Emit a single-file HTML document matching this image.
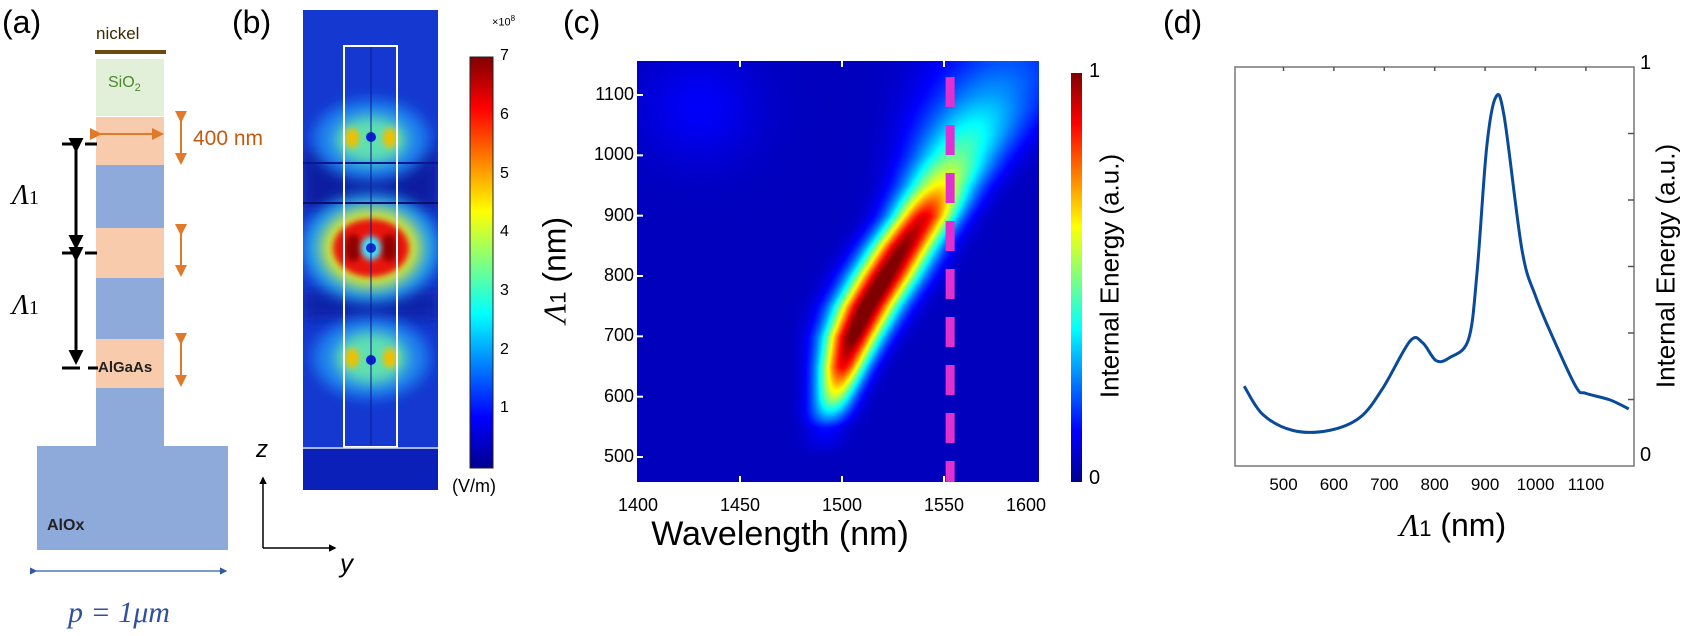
<!DOCTYPE html>
<html><head><meta charset="utf-8"><style>
html,body{margin:0;padding:0;background:#fff}
#root{position:relative;width:1688px;height:636px;overflow:hidden;font-family:"Liberation Sans",sans-serif}
.t{position:absolute;white-space:nowrap}
</style></head><body>
<div id="root">
<svg width="1688" height="636" style="position:absolute;left:0;top:0">
<defs>
<marker id="ao" markerWidth="6" markerHeight="6" refX="5" refY="3" orient="auto"><path d="M0,0L6,3L0,6z" fill="#e0792a"/></marker>
<marker id="ab" markerWidth="5" markerHeight="5" refX="4" refY="2.5" orient="auto"><path d="M0,0L5,2.5L0,5z" fill="#000"/></marker>
<marker id="abl" markerWidth="6" markerHeight="6" refX="5" refY="3" orient="auto"><path d="M0,0L6,3L0,6z" fill="#2f5aa8"/></marker>
<filter id="bl" x="-50%" y="-50%" width="200%" height="200%"><feGaussianBlur stdDeviation="7"/></filter>
<filter id="bl2" x="-50%" y="-50%" width="200%" height="200%"><feGaussianBlur stdDeviation="3"/></filter>
<linearGradient id="jet" x1="0" y1="1" x2="0" y2="0">
<stop offset="0" stop-color="#00008f"/><stop offset="0.125" stop-color="#0000ff"/><stop offset="0.375" stop-color="#00ffff"/><stop offset="0.625" stop-color="#ffff00"/><stop offset="0.875" stop-color="#ff0000"/><stop offset="1" stop-color="#800000"/></linearGradient>
</defs>
<g>
<rect x="95" y="50" width="71" height="4" fill="#6b4a10"/>
<rect x="96" y="59" width="68" height="57" fill="#e2efd9"/>
<rect x="96" y="117" width="68" height="48" fill="#f8cbad"/>
<rect x="96" y="165" width="68" height="63" fill="#8eaadb"/>
<rect x="96" y="228" width="68" height="50" fill="#f8cbad"/>
<rect x="96" y="278" width="68" height="61" fill="#8eaadb"/>
<rect x="96" y="339" width="68" height="49" fill="#f8cbad"/>
<rect x="96" y="388" width="68" height="60" fill="#8eaadb"/>
<rect x="37" y="446" width="191" height="104" fill="#8eaadb"/>
<line x1="100" y1="134" x2="162" y2="134" stroke="#e0792a" stroke-width="2" marker-start="url(#ao)" marker-end="url(#ao)"/>
<line x1="181" y1="121" x2="181" y2="163" stroke="#e0792a" stroke-width="2" marker-start="url(#ao)" marker-end="url(#ao)"/>
<line x1="181" y1="234" x2="181" y2="275" stroke="#e0792a" stroke-width="2" marker-start="url(#ao)" marker-end="url(#ao)"/>
<line x1="181" y1="343" x2="181" y2="385" stroke="#e0792a" stroke-width="2" marker-start="url(#ao)" marker-end="url(#ao)"/>
<g stroke="#000" stroke-width="3">
<line x1="62" y1="144" x2="80" y2="144"/><line x1="85" y1="144" x2="97" y2="144"/>
<line x1="62" y1="253" x2="80" y2="253"/><line x1="85" y1="253" x2="97" y2="253"/>
<line x1="62" y1="368" x2="80" y2="368"/><line x1="88" y1="368" x2="98" y2="368"/>
<line x1="76" y1="150" x2="76" y2="247" marker-start="url(#ab)" marker-end="url(#ab)"/>
<line x1="76" y1="259" x2="76" y2="362" marker-start="url(#ab)" marker-end="url(#ab)"/>
</g>
<line x1="36" y1="571" x2="226" y2="571" stroke="#2f5aa8" stroke-width="1.2" marker-start="url(#abl)" marker-end="url(#abl)"/>
</g>
<g>
<clipPath id="cb"><rect x="303" y="10" width="135" height="480"/></clipPath>
<g clip-path="url(#cb)">
<rect x="303" y="10" width="135" height="480" fill="#1438d0"/>
<rect x="303" y="150" width="135" height="60" fill="#0a1ca0" filter="url(#bl)"/>
<rect x="303" y="290" width="135" height="30" fill="#0a20a8" filter="url(#bl)"/>
<ellipse cx="371" cy="140" rx="58" ry="40" fill="#1a80f0" filter="url(#bl)"/>
<ellipse cx="371" cy="140" rx="36" ry="24" fill="#60e0b0" filter="url(#bl)"/>
<ellipse cx="352" cy="138" rx="7" ry="10" fill="#f0c000" filter="url(#bl2)"/>
<ellipse cx="390" cy="138" rx="7" ry="10" fill="#f0c000" filter="url(#bl2)"/>
<ellipse cx="371" cy="248" rx="68" ry="54" fill="#20a0f0" filter="url(#bl)"/>
<ellipse cx="371" cy="248" rx="50" ry="40" fill="#d8e830" filter="url(#bl)"/>
<ellipse cx="371" cy="248" rx="38" ry="29" fill="#e81808" filter="url(#bl2)"/>
<ellipse cx="353" cy="248" rx="8" ry="14" fill="#900000" filter="url(#bl2)"/>
<ellipse cx="389" cy="248" rx="8" ry="14" fill="#900000" filter="url(#bl2)"/>
<ellipse cx="371" cy="248" rx="10" ry="12" fill="#40e0ff" filter="url(#bl2)"/>
<circle cx="371" cy="248" r="5" fill="#1030d0"/>
<ellipse cx="371" cy="358" rx="58" ry="40" fill="#1a80f0" filter="url(#bl)"/>
<ellipse cx="371" cy="358" rx="36" ry="26" fill="#60e0b0" filter="url(#bl)"/>
<ellipse cx="352" cy="358" rx="7" ry="10" fill="#f0c000" filter="url(#bl2)"/>
<ellipse cx="390" cy="358" rx="7" ry="10" fill="#f0c000" filter="url(#bl2)"/>
<circle cx="371" cy="137" r="5" fill="#0820d0"/><circle cx="371" cy="360" r="5" fill="#0820d0"/>
<line x1="303" y1="163" x2="438" y2="163" stroke="#0a1890" stroke-width="2"/>
<line x1="303" y1="203" x2="438" y2="203" stroke="#061070" stroke-width="2"/>
<line x1="371" y1="46" x2="371" y2="447" stroke="#0a1a90" stroke-width="1"/>
<rect x="344" y="46" width="53" height="401" fill="none" stroke="#fff" stroke-width="2"/>
<rect x="303" y="449" width="135" height="41" fill="#0a20b8"/>
<line x1="303" y1="448" x2="438" y2="448" stroke="#ddd" stroke-width="1.5"/>
</g>
<rect x="470" y="57" width="23" height="411" fill="url(#jet)" stroke="#222" stroke-width="1"/>
<line x1="263" y1="548" x2="263" y2="478" stroke="#000" stroke-width="1.5" marker-end="url(#ab)"/>
<line x1="263" y1="548" x2="335" y2="548" stroke="#000" stroke-width="1.5" marker-end="url(#ab)"/>
</g>
<g>
<rect x="1071" y="73" width="11" height="409" fill="url(#jet)"/>
</g>
</svg>
<canvas id="heat" width="402" height="421" style="position:absolute;left:637px;top:61px"></canvas>
<svg id="overlay" width="1688" height="636" style="position:absolute;left:0;top:0"></svg>

<div class="t" style="left:2px;top:4px;font-size:32px">(a)</div>
<div class="t" style="left:96px;top:24px;font-size:17px;color:#3a2a00">nickel</div>
<div class="t" style="left:108px;top:74px;font-size:16px;color:#4a8a2a">SiO<sub style="font-size:11px">2</sub></div>
<div class="t" style="left:193px;top:127px;font-size:21px;color:#c55a11">400 nm</div>
<div class="t" style="left:12px;top:180px;font-size:28px;font-style:italic;font-family:'Liberation Serif',serif">Λ<span style="font-size:20px;font-style:normal">1</span></div>
<div class="t" style="left:12px;top:290px;font-size:28px;font-style:italic;font-family:'Liberation Serif',serif">Λ<span style="font-size:20px;font-style:normal">1</span></div>
<div class="t" style="left:98px;top:359px;font-size:15px;font-weight:bold;color:#222">AlGaAs</div>
<div class="t" style="left:47px;top:517px;font-size:16px;font-weight:bold;color:#222">AlOx</div>
<div class="t" style="left:68px;top:596px;font-size:30px;font-style:italic;color:#2f4f9f;font-family:'Liberation Serif',serif">p = 1μm</div>
<div class="t" style="left:232px;top:4px;font-size:32px">(b)</div>
<div class="t" style="left:256px;top:436px;font-size:24px;font-style:italic">z</div>
<div class="t" style="left:340px;top:548px;font-size:26px;font-style:italic">y</div>
<div class="t" style="left:492px;top:14px;font-size:11px">×10<sup style="font-size:8px">8</sup></div>
<div class="t" style="left:452px;top:476px;font-size:18px">(V/m)</div>
<div class="t" style="left:563px;top:4px;font-size:32px">(c)</div>
<div class="t" style="left:555px;top:270px;font-size:32px;transform:translate(0,-50%) rotate(-90deg);transform-origin:center;width:0;display:flex;justify-content:center"><span><i style="font-family:'Liberation Serif',serif">Λ</i><span style="font-size:22px">1</span> (nm)</span></div>
<div class="t" style="left:780px;top:515px;font-size:34px;transform:translateX(-50%)">Wavelength (nm)</div>
<div class="t" style="left:1089px;top:60px;font-size:20px">1</div>
<div class="t" style="left:1089px;top:467px;font-size:20px">0</div>
<div class="t" style="left:1110px;top:276px;font-size:26px;transform:translate(-50%,-50%) rotate(-90deg)">Internal Energy (a.u.)</div>
<div class="t" style="left:1163px;top:4px;font-size:32px">(d)</div>
<div class="t" style="left:1640px;top:52px;font-size:20px">1</div>
<div class="t" style="left:1640px;top:444px;font-size:20px">0</div>
<div class="t" style="left:1666px;top:266px;font-size:26px;transform:translate(-50%,-50%) rotate(-90deg)">Internal Energy (a.u.)</div>
<div class="t" style="left:1453px;top:507px;font-size:32px;transform:translateX(-50%)"><i style="font-family:'Liberation Serif',serif">Λ</i><span style="font-size:22px">1</span> (nm)</div>
<div id="ticks"></div>
</div>
<script>
// ---- panel c data ----
const cRowsLambda1 = [450,500,550,600,650,700,750,800,850,900,950,1000,1050,1100,1150];
const cResonanceWl = [1490,1490,1492,1496,1500,1505,1512,1521,1530,1540,1548,1556,1564,1572,1580];
const cPeakAmp = [0,0,0.08,0.5,0.82,0.96,0.98,0.97,0.93,0.84,0.58,0.42,0.32,0.22,0.15];
const cPeakSigma = [7,7,7,7,8,9.5,10.5,11,11,11,12.5,15,18,21,24];
const cXTicks = [1400,1450,1500,1550,1600];
const cYTicks = [500,600,700,800,900,1000,1100];
const cDashWl = 1553;
// ---- panel d data ----
const dLambda1 = [422,459,519,590,652,698,751,776,803,830,867,884,903,921,938,973,1000,1039,1081,1100,1147,1185];
const dEnergy = [0.20,0.129,0.089,0.089,0.122,0.197,0.313,0.309,0.264,0.272,0.317,0.485,0.797,0.924,0.875,0.543,0.426,0.309,0.197,0.182,0.166,0.143];
const dXTicks = [500,600,700,800,900,1000,1100];
const cbbTicks = [1,2,3,4,5,6,7];

const cx = v => 740 + (v-1450)*2.04;
const cy = v => 457 - (v-500)*0.6033;
const dx = v => 1283.5 + (v-500)*0.504;
const dy = v => 466 - v*399;
const NS='http://www.w3.org/2000/svg';
function interp(arr,L){
  if(L<=cRowsLambda1[0])return arr[0];
  for(let i=1;i<cRowsLambda1.length;i++){if(L<=cRowsLambda1[i]){const t=(L-cRowsLambda1[i-1])/(cRowsLambda1[i]-cRowsLambda1[i-1]);return arr[i-1]*(1-t)+arr[i]*t;}}
  return arr[arr.length-1];
}
function jet(v){
  v=Math.max(0,Math.min(1,v));
  const r=Math.min(4*v-1.5,-4*v+4.5),g=Math.min(4*v-0.5,-4*v+3.5),b=Math.min(4*v+0.5,-4*v+2.5);
  const c=x=>Math.round(255*Math.max(0,Math.min(1,x)));return [c(r),c(g),c(b)];
}
const cv=document.getElementById('heat');const ctx=cv.getContext('2d');const img=ctx.createImageData(402,421);
for(let py=0;py<421;py++){
  const L=500+(457-(py+61))/0.6033;
  const res=interp(cResonanceWl,L),a=interp(cPeakAmp,L),s=interp(cPeakSigma,L);
  for(let px=0;px<402;px++){
    const W=1450+((px+637)-740)/2.04;
    const d=(W-res)/s;
    let v=0.06+a*Math.exp(-0.5*d*d);
    v+=0.06*Math.exp(-((W-1430)**2)/800-((L-1080)**2)/8000);
    const [r,g,b]=jet(v);const k=(py*402+px)*4;img.data[k]=r;img.data[k+1]=g;img.data[k+2]=b;img.data[k+3]=255;
  }
}
ctx.putImageData(img,0,0);
const ov=document.getElementById('overlay');
const dl=document.createElementNS(NS,'line');
dl.setAttribute('x1',cx(cDashWl));dl.setAttribute('x2',cx(cDashWl));dl.setAttribute('y1',77);dl.setAttribute('y2',482);
dl.setAttribute('stroke','#e030d0');dl.setAttribute('stroke-width',9);dl.setAttribute('stroke-dasharray','30 18');


ov.appendChild(dl);
const tk=document.getElementById('ticks');
cYTicks.forEach(v=>{
  const l=document.createElementNS(NS,'line');l.setAttribute('x1',637);l.setAttribute('x2',643);l.setAttribute('y1',cy(v));l.setAttribute('y2',cy(v));l.setAttribute('stroke','#fff');l.setAttribute('stroke-width',2);
  
  
  ov.appendChild(l);
  const t=document.createElement('div');t.className='t';t.textContent=v;
  t.style.cssText=`left:590px;top:${cy(v)-11}px;font-size:18px;width:44px;text-align:right`;
  
  
  tk.appendChild(t);
});
cXTicks.forEach(v=>{
  if(v>1400&&v<1600){[61,482].forEach(y0=>{const l=document.createElementNS(NS,'line');l.setAttribute('x1',cx(v));l.setAttribute('x2',cx(v));l.setAttribute('y1',y0);l.setAttribute('y2',y0===61?67:476);l.setAttribute('stroke','#fff');l.setAttribute('stroke-width',2);
  
  
  ov.appendChild(l);});}
  const t=document.createElement('div');t.className='t';t.textContent=v;
  t.style.cssText=`left:${Math.min(cx(v),1026)-22}px;top:495px;font-size:18px;width:44px;text-align:center`;
  
  
  tk.appendChild(t);
});
cbbTicks.forEach(v=>{
  const y=468-v*58.7;
  const t=document.createElement('div');t.className='t';t.textContent=v;
  t.style.cssText=`left:500px;top:${y-10}px;font-size:16px`;
  
  
  tk.appendChild(t);
});
const fr=document.createElementNS(NS,'rect');fr.setAttribute('x',1235);fr.setAttribute('y',67);fr.setAttribute('width',399);fr.setAttribute('height',399);fr.setAttribute('fill','none');fr.setAttribute('stroke','#777');fr.setAttribute('stroke-width',1.5);


ov.appendChild(fr);
[1/6,2/6,3/6,4/6,5/6].forEach(v=>{
  const l=document.createElementNS(NS,'line');l.setAttribute('x1',1628);l.setAttribute('x2',1634);l.setAttribute('y1',dy(v));l.setAttribute('y2',dy(v));l.setAttribute('stroke','#555');l.setAttribute('stroke-width',1.5);
  
  
  ov.appendChild(l);
});
dXTicks.forEach(v=>{
  const l=document.createElementNS(NS,'line');l.setAttribute('x1',dx(v));l.setAttribute('x2',dx(v));l.setAttribute('y1',67);l.setAttribute('y2',71);l.setAttribute('stroke','#555');l.setAttribute('stroke-width',1.5);
  
  
  ov.appendChild(l);
  const t=document.createElement('div');t.className='t';t.textContent=v;
  t.style.cssText=`left:${dx(v)-28}px;top:475px;font-size:17px;width:56px;text-align:center`;
  
  
  tk.appendChild(t);
});
const P=dLambda1.map((v,i)=>[dx(v),dy(dEnergy[i])]);
let d=`M${P[0][0]},${P[0][1]}`;
for(let i=0;i<P.length-1;i++){
  const p0=P[Math.max(0,i-1)],p1=P[i],p2=P[i+1],p3=P[Math.min(P.length-1,i+2)];
  d+=` C${p1[0]+(p2[0]-p0[0])/6},${p1[1]+(p2[1]-p0[1])/6} ${p2[0]-(p3[0]-p1[0])/6},${p2[1]-(p3[1]-p1[1])/6} ${p2[0]},${p2[1]}`;
}
const cp=document.createElementNS(NS,'path');cp.setAttribute('d',d);cp.setAttribute('fill','none');cp.setAttribute('stroke','#0a4a9a');cp.setAttribute('stroke-width',3);


ov.appendChild(cp);
</script>
</body></html>
